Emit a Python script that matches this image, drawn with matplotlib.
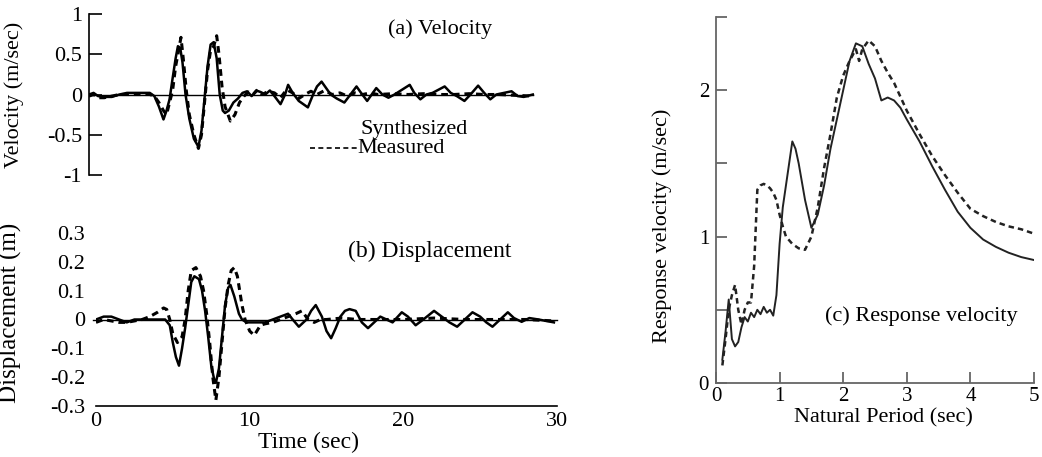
import matplotlib
matplotlib.use("Agg")
import matplotlib.pyplot as plt
from matplotlib.ticker import FixedLocator

plt.rcParams['font.family'] = ['Liberation Serif', 'DejaVu Serif']

# (a) velocity time history, t in sec, v in m/sec
vel_syn_t = [0, 0.3, 0.6, 1.0, 1.5, 2.0, 2.5, 3.0, 3.5, 4.0, 4.3, 4.6, 4.9, 5.1, 5.3, 5.5, 5.7, 5.85, 6.0,
             6.15, 6.35, 6.6, 6.9, 7.2, 7.4, 7.6, 7.8, 8.0, 8.2, 8.4, 8.6, 8.8, 8.95, 9.2, 9.5, 9.8, 10.1,
             10.4, 10.7, 11.0, 11.3, 11.6, 11.9, 12.2, 12.6, 12.9, 13.1, 13.4, 13.8, 14.1, 14.4, 14.7, 15.0,
             15.3, 15.6, 15.9, 16.3, 16.8, 17.2, 17.6, 17.9, 18.3, 18.6, 18.9, 19.3, 19.7, 20.1, 20.6, 21.1,
             21.4, 21.8, 22.2, 22.6, 23.0, 23.4, 23.8, 24.2, 24.7, 25.1, 25.6, 26.0, 26.4, 26.8, 27.3, 27.8,
             28.2, 28.6, 29.2]
vel_syn = [0.0, 0.02, -0.02, -0.03, -0.03, 0.0, 0.02, 0.02, 0.02, 0.02, -0.02, -0.15, -0.31, -0.2, -0.06,
           0.2, 0.45, 0.6, 0.58, 0.4, 0.0, -0.3, -0.55, -0.65, -0.45, -0.05, 0.35, 0.62, 0.65, 0.45, 0.0,
           -0.2, -0.23, -0.2, -0.1, -0.05, 0.02, 0.04, -0.02, 0.05, 0.03, 0.0, 0.05, -0.02, -0.12, 0.0, 0.12,
           0.02, -0.08, -0.12, -0.16, -0.02, 0.1, 0.16, 0.08, 0.0, -0.05, -0.1, 0.0, 0.1, 0.02, -0.08, 0.0,
           0.08, 0.0, -0.04, 0.0, 0.06, 0.12, 0.02, -0.06, 0.0, 0.02, 0.06, 0.1, 0.02, -0.02, -0.08, 0.0,
           0.11, 0.02, -0.06, 0.0, 0.02, 0.04, -0.02, -0.03, 0.0]
vel_mea_t = [0, 0.3, 0.6, 1.0, 1.5, 2.0, 2.5, 3.0, 3.5, 4.0, 4.3, 4.6, 4.9, 5.1, 5.3, 5.5, 5.7, 5.9, 6.05,
             6.2, 6.4, 6.6, 6.9, 7.2, 7.4, 7.6, 7.8, 8.0, 8.2, 8.4, 8.55, 8.75, 8.95, 9.3, 9.6, 9.9, 10.2,
             10.5, 10.8, 11.1, 11.4, 11.8, 12.2, 12.6, 13.0, 13.4, 13.8, 14.2, 14.6, 15.0, 15.5, 16.0, 16.5,
             17.0, 17.5, 18.0, 18.5, 19.0, 20.0, 21.0, 22.0, 23.0, 24.0, 25.0, 26.0, 27.0, 28.0, 29.2]
vel_mea = [-0.02, 0.0, -0.04, -0.04, -0.02, 0.0, 0.0, 0.0, 0.0, 0.0, -0.02, -0.1, -0.2, -0.25, -0.1, 0.05,
           0.35, 0.55, 0.71, 0.45, 0.05, -0.25, -0.5, -0.67, -0.5, -0.1, 0.3, 0.55, 0.6, 0.73, 0.5, 0.1,
           -0.15, -0.33, -0.25, -0.1, -0.02, 0.03, 0.0, 0.06, 0.0, 0.04, 0.02, -0.04, 0.06, 0.02, -0.05, 0.0,
           0.04, 0.0, 0.05, 0.0, 0.02, -0.02, 0.02, 0.0, 0.02, 0.0, 0.01, 0.0, 0.01, 0.0, 0.0, 0.01, 0.0,
           0.0, -0.01, -0.02]

# (b) displacement time history, m
dis_syn_t = [0, 0.5, 1, 1.5, 2, 2.5, 3, 3.5, 4, 4.5, 4.8, 5.0, 5.2, 5.4, 5.6, 5.8, 6.0, 6.2, 6.4, 6.7, 6.9,
             7.1, 7.3, 7.5, 7.7, 7.8, 8.0, 8.2, 8.4, 8.6, 8.75, 9.0, 9.3, 9.5, 9.8, 10.5, 11.0, 11.5, 12.0,
             12.5, 12.8, 13.2, 13.7, 14.0, 14.3, 14.7, 15.0, 15.3, 15.6, 15.9, 16.2, 16.5, 16.9, 17.3, 17.7,
             18.1, 18.5, 18.9, 19.3, 19.9, 20.3, 20.8, 21.3, 22.0, 22.5, 23.0, 23.5, 24.0, 24.5, 25.0, 25.4,
             25.8, 26.3, 26.8, 27.2, 27.7, 28.2, 28.8, 29.3, 29.8]
dis_syn = [0.0, 0.01, 0.01, 0.0, -0.01, 0.0, 0.0, 0.0, 0.0, 0.0, -0.02, -0.08, -0.13, -0.16, -0.1, -0.03,
           0.05, 0.13, 0.15, 0.14, 0.1, 0.03, -0.06, -0.16, -0.21, -0.22, -0.17, -0.06, 0.05, 0.11, 0.12,
           0.08, 0.02, 0.0, -0.01, -0.01, -0.01, 0.0, 0.01, 0.02, 0.0, -0.025, 0.0, 0.03, 0.05, 0.01, -0.04,
           -0.065, -0.03, 0.01, 0.03, 0.036, 0.03, -0.01, -0.03, -0.01, 0.01, 0.0, -0.01, 0.025, 0.01, -0.02,
           0.0, 0.03, 0.01, -0.01, -0.025, 0.0, 0.025, 0.01, -0.01, -0.025, 0.0, 0.025, 0.005, -0.008, 0.005,
           0.0, -0.005, -0.01]
dis_mea_t = [0, 0.5, 1, 1.5, 2, 2.5, 3, 3.5, 4.0, 4.4, 4.6, 4.8, 5.0, 5.3, 5.6, 5.8, 6.0, 6.2, 6.5, 6.8,
             7.0, 7.2, 7.4, 7.6, 7.8, 8.0, 8.2, 8.4, 8.6, 8.8, 9.0, 9.2, 9.5, 9.7, 10.0, 10.3, 10.7, 11.0,
             11.5, 12.0, 12.5, 13.0, 13.4, 13.8, 14.2, 14.6, 15.0, 16.0, 17.0, 18.0, 20.0, 22.0, 24.0, 26.0,
             28.0, 29.8]
dis_mea = [-0.01, 0.0, -0.005, -0.01, -0.01, -0.005, 0.0, 0.01, 0.025, 0.04, 0.035, 0.0, -0.05, -0.08,
           -0.06, 0.0, 0.1, 0.17, 0.18, 0.15, 0.1, 0.02, -0.08, -0.2, -0.28, -0.2, -0.08, 0.04, 0.12, 0.17,
           0.18, 0.15, 0.05, 0.0, -0.04, -0.055, -0.02, -0.015, -0.01, 0.0, 0.01, 0.02, 0.03, 0.0, -0.01,
           0.0, 0.0, 0.005, 0.0, 0.0, 0.0, 0.005, 0.0, 0.0, 0.0, -0.005]

# (c) response velocity spectrum
per_syn = [0.1, 0.15, 0.2, 0.25, 0.3, 0.35, 0.4, 0.45, 0.5, 0.55, 0.6, 0.65, 0.7, 0.75, 0.8, 0.85, 0.9,
           0.95, 1.0, 1.05, 1.1, 1.15, 1.2, 1.25, 1.3, 1.4, 1.5, 1.6, 1.7, 1.8, 1.9, 2.0, 2.1, 2.2, 2.3,
           2.4, 2.5, 2.6, 2.7, 2.8, 2.9, 3.0, 3.2, 3.4, 3.6, 3.8, 4.0, 4.2, 4.4, 4.6, 4.8, 5.0]
sv_syn = [0.16, 0.35, 0.57, 0.3, 0.25, 0.28, 0.38, 0.45, 0.42, 0.48, 0.45, 0.5, 0.47, 0.52, 0.48, 0.5,
          0.46, 0.6, 0.95, 1.2, 1.35, 1.5, 1.65, 1.6, 1.5, 1.25, 1.06, 1.15, 1.35, 1.6, 1.8, 2.0, 2.2,
          2.32, 2.3, 2.18, 2.08, 1.93, 1.95, 1.93, 1.88, 1.8, 1.65, 1.48, 1.32, 1.17, 1.06, 0.98, 0.93,
          0.89, 0.86, 0.84]
per_mea = [0.1, 0.15, 0.2, 0.25, 0.3, 0.35, 0.4, 0.45, 0.5, 0.55, 0.6, 0.65, 0.7, 0.75, 0.8, 0.85, 0.9,
           0.95, 1.0, 1.05, 1.1, 1.2, 1.3, 1.4, 1.5, 1.55, 1.6, 1.7, 1.8, 1.9, 2.0, 2.1, 2.2, 2.25, 2.3,
           2.4, 2.5, 2.6, 2.7, 2.8, 3.0, 3.2, 3.4, 3.6, 3.8, 4.0, 4.2, 4.4, 4.6, 4.8, 5.0]
sv_mea = [0.12, 0.3, 0.5, 0.6, 0.67, 0.5, 0.4, 0.5, 0.55, 0.55, 0.8, 1.32, 1.35, 1.36, 1.35, 1.33, 1.3,
          1.25, 1.15, 1.07, 1.0, 0.95, 0.92, 0.91, 1.0, 1.1, 1.2, 1.47, 1.7, 1.95, 2.1, 2.2, 2.28, 2.2,
          2.28, 2.34, 2.3, 2.2, 2.12, 2.05, 1.86, 1.7, 1.55, 1.42, 1.3, 1.19, 1.14, 1.1, 1.07, 1.05, 1.02]

W, H = 1042, 457
fig = plt.figure(figsize=(W / 100, H / 100), dpi=100)


def box(l, r, t, b):
    return [l / W, 1 - b / H, (r - l) / W, (b - t) / H]


dash = (0, (2.2, 1.6))

# ---- (a) velocity
ax1 = fig.add_axes(box(89, 545, 14, 175))
ax1.plot(vel_syn_t, vel_syn, color='k', lw=1.8)
ax1.plot(vel_mea_t, vel_mea, color='k', lw=2.2, ls=dash)
ax1.axhline(0, xmin=0, xmax=29.2 / 30, color='k', lw=1.0)
ax1.set_xlim(0, 30)
ax1.set_ylim(-1, 1)
for s in ['top', 'right', 'bottom']:
    ax1.spines[s].set_visible(False)
ax1.spines['left'].set_linewidth(1.2)
ax1.set_xticks([])
ax1.set_yticks([-1, -0.5, 0, 0.5, 1])
ax1.set_yticklabels(['-1', '-0.5', '0', '0.5', '1'])
ax1.tick_params(axis='y', direction='in', length=9, width=1.2, pad=5, labelsize=16)
ax1.set_ylabel('Velocity (m/sec)', fontsize=16)
ax1.yaxis.set_label_coords(-0.142, 0.5)
ax1.text(19.7, 0.81, '(a) Velocity', fontsize=16, va='center')
ax1.text(0.595, 0.285, 'Synthesized', transform=ax1.transAxes, fontsize=16, va='center')
ax1.text(0.588, 0.165, 'Measured', transform=ax1.transAxes, fontsize=16, va='center')
ax1.plot([0.485, 0.588], [0.17, 0.17], transform=ax1.transAxes, color='k', lw=1.2, ls=(0, (3, 2)))

# ---- (b) displacement
ax2 = fig.add_axes(box(96, 557, 233, 406))
ax2.plot(dis_syn_t, dis_syn, color='k', lw=1.8)
ax2.plot(dis_mea_t, dis_mea, color='k', lw=2.2, ls=dash)
ax2.axhline(0, xmin=-0.007, xmax=1, color='k', lw=1.0, clip_on=False)
ax2.set_xlim(0, 30)
ax2.set_ylim(-0.3, 0.3)
for s in ['top', 'right', 'left']:
    ax2.spines[s].set_visible(False)
ax2.spines['bottom'].set_linewidth(1.2)
ax2.set_xticks([0, 10, 20, 30])
ax2.xaxis.set_minor_locator(FixedLocator([10, 20]))
ax2.tick_params(axis='x', which='major', length=0, pad=4, labelsize=16)
ax2.tick_params(axis='x', which='minor', direction='inout', length=13, width=1.2)
ax2.set_yticks([-0.3, -0.2, -0.1, 0, 0.1, 0.2, 0.3])
ax2.set_yticklabels(['-0.3', '-0.2', '-0.1', '0', '0.1', '0.2', '0.3'])
ax2.yaxis.set_minor_locator(FixedLocator([-0.2, -0.1, 0.1, 0.2]))
ax2.tick_params(axis='y', which='major', length=0, pad=8, labelsize=16)
ax2.tick_params(axis='y', which='minor', direction='inout', length=12, width=1.2)
ax2.set_xlabel('Time (sec)', fontsize=17)
ax2.xaxis.set_label_coords(0.46, -0.15)
ax2.set_ylabel('Displacement (m)', fontsize=18)
ax2.yaxis.set_label_coords(-0.16, 0.54)
ax2.text(16.4, 0.236, '(b) Displacement', fontsize=17, va='center')

# ---- (c) response velocity
ax3 = fig.add_axes(box(716, 1034, 17, 383))
gray = '#666666'
ax3.plot(per_syn, sv_syn, color='#222222', lw=1.4)
ax3.plot(per_mea, sv_mea, color='#222222', lw=1.8, ls=dash)
ax3.set_xlim(0, 5)
ax3.set_ylim(0, 2.5)
for s in ['top', 'right']:
    ax3.spines[s].set_visible(False)
for s in ['left', 'bottom']:
    ax3.spines[s].set_color(gray)
    ax3.spines[s].set_linewidth(1.3)
ax3.set_xticks([0, 1, 2, 3, 4, 5])
ax3.set_yticks([0, 0.5, 1, 1.5, 2, 2.5])
ax3.set_yticklabels(['0', '', '1', '', '2', ''])
ax3.tick_params(axis='x', direction='in', length=8, width=1.3, color=gray, labelsize=15, pad=3)
ax3.tick_params(axis='y', direction='in', length=8, width=1.3, color=gray, labelsize=15, pad=5)
ax3.set_xlabel('Natural Period (sec)', fontsize=16)
ax3.xaxis.set_label_coords(0.525, -0.068)
ax3.set_ylabel('Response velocity (m/sec)', fontsize=16)
ax3.yaxis.set_label_coords(-0.138, 0.43)
ax3.text(1.71, 0.46, '(c) Response velocity', fontsize=16, va='center')

fig.savefig('out.png', dpi=100)
